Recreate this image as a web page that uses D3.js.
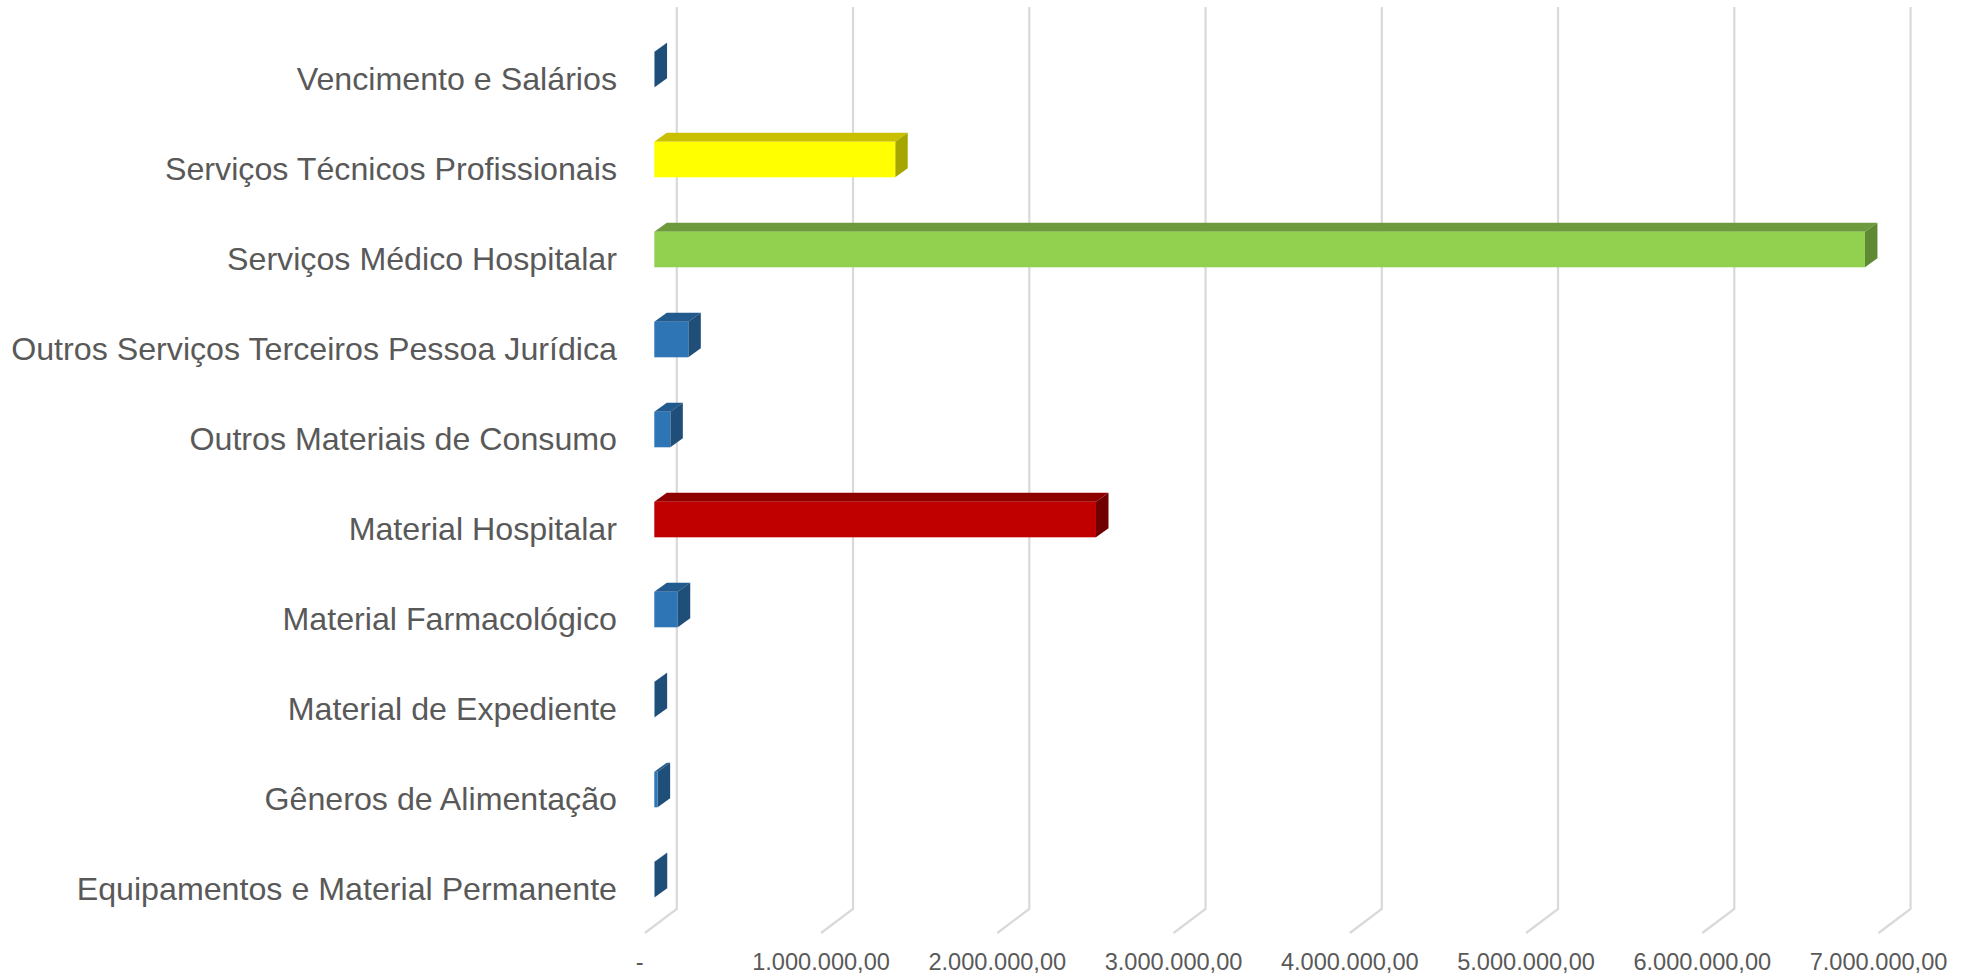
<!DOCTYPE html>
<html>
<head>
<meta charset="utf-8">
<script src="https://cdn.jsdelivr.net/npm/d3@7"></script>
<style>
  html, body { margin: 0; padding: 0; background: #ffffff; }
  svg { display: block; }
</style>
</head>
<body>
<svg id="chart" width="1966" height="976"></svg>
<script>
// ---- data ----
const categories = [
  "Vencimento e Salários",
  "Serviços Técnicos Profissionais",
  "Serviços Médico Hospitalar",
  "Outros Serviços Terceiros Pessoa Jurídica",
  "Outros Materiais de Consumo",
  "Material Hospitalar",
  "Material Farmacológico",
  "Material de Expediente",
  "Gêneros de Alimentação",
  "Equipamentos e Material Permanente"
];
const values = [1500, 1367000, 6869000, 193000, 91000, 2506000, 133000, 2000, 19000, 2500];
const colorKeys = ["blue", "yellow", "green", "blue", "blue", "red", "blue", "blue", "blue", "blue"];
const tickValues = [0, 1000000, 2000000, 3000000, 4000000, 5000000, 6000000, 7000000];
const tickLabels = ["-", "1.000.000,00", "2.000.000,00", "3.000.000,00", "4.000.000,00", "5.000.000,00", "6.000.000,00", "7.000.000,00"];

// ---- styles ----
const palette = {
  blue:   { front: "#2E75B6", top: "#225A8E", side: "#1F4E79" },
  yellow: { front: "#FFFF00", top: "#C8C000", side: "#A6A600" },
  green:  { front: "#92D050", top: "#6E9A3E", side: "#5F8A33" },
  red:    { front: "#C00000", top: "#8E0000", side: "#700000" }
};

const svg = d3.select("#chart");

// front-plane scale for bars
const x = d3.scaleLinear().domain([0, 7000000]).range([654.3, 654.3 + 176.25 * 7]);
const y = d3.scaleBand().domain(categories).range([24.5, 924.5])
  .paddingInner(0.6044).paddingOuter(0.3022);

const depthDx = 12.5, depthDy = -9;   // bar depth
const wallDx = 22.5;                   // back wall offset from bar front
const floorDx = -9.5;                  // front floor offset from bar front
const gridTop = 7, gridBottom = 909, floorFrontY = 933;

// gridlines (back wall + floor)
const grid = svg.append("g").attr("class", "grid");
grid.selectAll("path").data(tickValues).join("path")
  .attr("d", v => {
    const xb = x(v) + wallDx, xf = x(v) + floorDx;
    return `M${xb},${gridTop} L${xb},${gridBottom} L${xf},${floorFrontY}`;
  })
  .attr("fill", "none")
  .attr("stroke", "#D9D9D9")
  .attr("stroke-width", 2.2);

// tick labels
svg.append("g").selectAll("text").data(tickValues).join("text")
  .attr("x", (v, i) => i === 0 ? x(v) + floorDx - 5 : x(v) + floorDx)
  .attr("y", 970)
  .attr("text-anchor", "middle")
  .attr("font-family", "'Liberation Sans', Arial, sans-serif")
  .attr("font-size", "23.6px")
  .attr("fill", "#595959")
  .text((v, i) => tickLabels[i]);

// category labels
svg.append("g").selectAll("text").data(categories).join("text")
  .attr("x", 617)
  .attr("y", c => y(c) + y.bandwidth() / 2 + 20)
  .attr("text-anchor", "end")
  .attr("font-family", "'Liberation Sans', Arial, sans-serif")
  .attr("font-size", "32.2px")
  .attr("fill", "#595959")
  .text(c => c);

// 3D bars
const bars = svg.append("g").selectAll("g").data(categories.map((c, i) => ({ c, v: values[i], k: colorKeys[i] })))
  .join("g");

const h = y.bandwidth();
bars.each(function(d) {
  const g = d3.select(this);
  const x0 = x(0), x1 = x(d.v), y0 = y(d.c), y1 = y0 + h;
  const col = palette[d.k];
  // top face
  g.append("path")
    .attr("d", `M${x0},${y0} L${x1},${y0} L${x1 + depthDx},${y0 + depthDy} L${x0 + depthDx},${y0 + depthDy} Z`)
    .attr("fill", col.top);
  // side face
  g.append("path")
    .attr("d", `M${x1},${y0} L${x1 + depthDx},${y0 + depthDy} L${x1 + depthDx},${y1 + depthDy} L${x1},${y1} Z`)
    .attr("fill", col.side);
  // front face
  g.append("rect")
    .attr("x", x0).attr("y", y0)
    .attr("width", Math.max(0, x1 - x0)).attr("height", h)
    .attr("fill", col.front);
});
</script>
</body>
</html>
